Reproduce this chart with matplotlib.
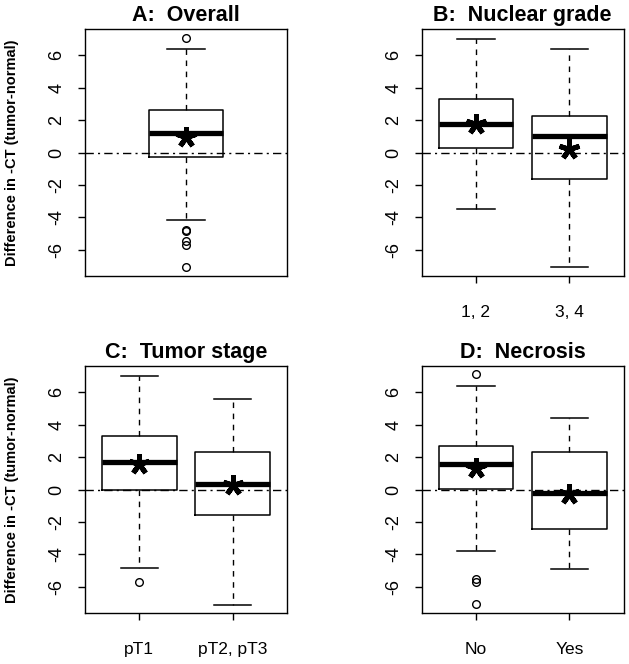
import matplotlib
matplotlib.use("Agg")
import matplotlib.pyplot as plt

plt.rcParams["font.family"] = ["Liberation Sans", "DejaVu Sans"]

# values (y = difference in -CT, tumor-normal)
titles = ["A:  Overall", "B:  Nuclear grade", "C:  Tumor stage", "D:  Necrosis"]
group_labels = [[""], ["1, 2", "3, 4"], ["pT1", "pT2, pT3"], ["No", "Yes"]]

medians = [[1.23], [1.74, 1.00], [1.71, 0.37], [1.56, -0.19]]
q1s = [[-0.25], [0.26, -1.62], [0.00, -1.59], [0.02, -2.44]]
q3s = [[2.62], [3.28, 2.28], [3.30, 2.33], [2.70, 2.33]]
whis_lo = [[-4.18], [-3.47, -7.06], [-4.82, -7.11], [-3.80, -4.89]]
whis_hi = [[6.36], [7.02, 6.36], [7.00, 5.58], [6.39, 4.43]]
means = [[0.96], [1.75, 0.20], [1.56, 0.25], [1.30, -0.25]]
outliers = [
    [[7.05, -4.80, -4.86, -5.45, -5.70, -7.05]],
    [[], []],
    [[-5.72], []],
    [[7.10, -5.50, -5.70, -7.09], []],
]

fig = plt.figure(figsize=(6.29, 6.64), dpi=100)
W, H = 629, 664
boxes_px = [(85, 29), (421.7, 29), (85, 366), (421.7, 366)]
aw, ah = 202, 247

for k in range(4):
    x0, y0 = boxes_px[k]
    ax = fig.add_axes([x0 / W, 1 - (y0 + ah) / H, aw / W, ah / H])
    n = len(medians[k])
    stats = []
    for i in range(n):
        stats.append(dict(med=medians[k][i], q1=q1s[k][i], q3=q3s[k][i],
                          whislo=whis_lo[k][i], whishi=whis_hi[k][i],
                          mean=means[k][i], fliers=outliers[k][i]))
    bw = 0.4 if n == 1 else 0.8
    pos = list(range(1, n + 1))
    ax.bxp(stats, positions=pos, widths=bw, capwidths=bw / 2,
           showmeans=True, showfliers=True, manage_ticks=False,
           boxprops=dict(color="black", lw=1.1),
           whiskerprops=dict(color="black", lw=1.0, linestyle=(0, (4, 4))),
           capprops=dict(color="black", lw=1.1),
           medianprops=dict(color="black", lw=3.8, solid_capstyle="butt"),
           meanprops=dict(marker=(5, 2, 0), markersize=15, markeredgewidth=3.6,
                          color="black", markeredgecolor="black"),
           flierprops=dict(marker="o", markerfacecolor="none",
                           markeredgecolor="black", markersize=5.5,
                           markeredgewidth=1.0))
    ax.axhline(0, color="black", lw=1.0, linestyle=(0, (6, 3, 1.5, 3)), zorder=1)

    if n == 1:
        ax.set_xlim(0.46, 1.54)
        ax.set_xticks([])
    else:
        ax.set_xlim(0.42, n + 0.58)
        ax.set_xticks(pos)
        ax.set_xticklabels(group_labels[k], fontsize=12.5)
    ax.set_ylim(-7.62, 7.62)
    ax.set_yticks([-6, -4, -2, 0, 2, 4, 6])
    ax.set_yticklabels(["-6", "-4", "-2", "0", "2", "4", "6"], rotation=90,
                       va="center", fontsize=13)
    ax.tick_params(axis="both", direction="out", length=5, width=1.0,
                   color="black")
    ax.tick_params(axis="y", pad=9)
    ax.tick_params(axis="x", pad=16)
    for sp in ax.spines.values():
        sp.set_linewidth(1.0)
    ax.set_title(titles[k], fontsize=15.5, fontweight="bold", pad=6)
    if k in (0, 2):
        ax.set_ylabel("Difference in -CT (tumor-normal)", fontsize=10.5,
                      fontweight="bold", labelpad=21)

fig.savefig("out.png", dpi=100)
